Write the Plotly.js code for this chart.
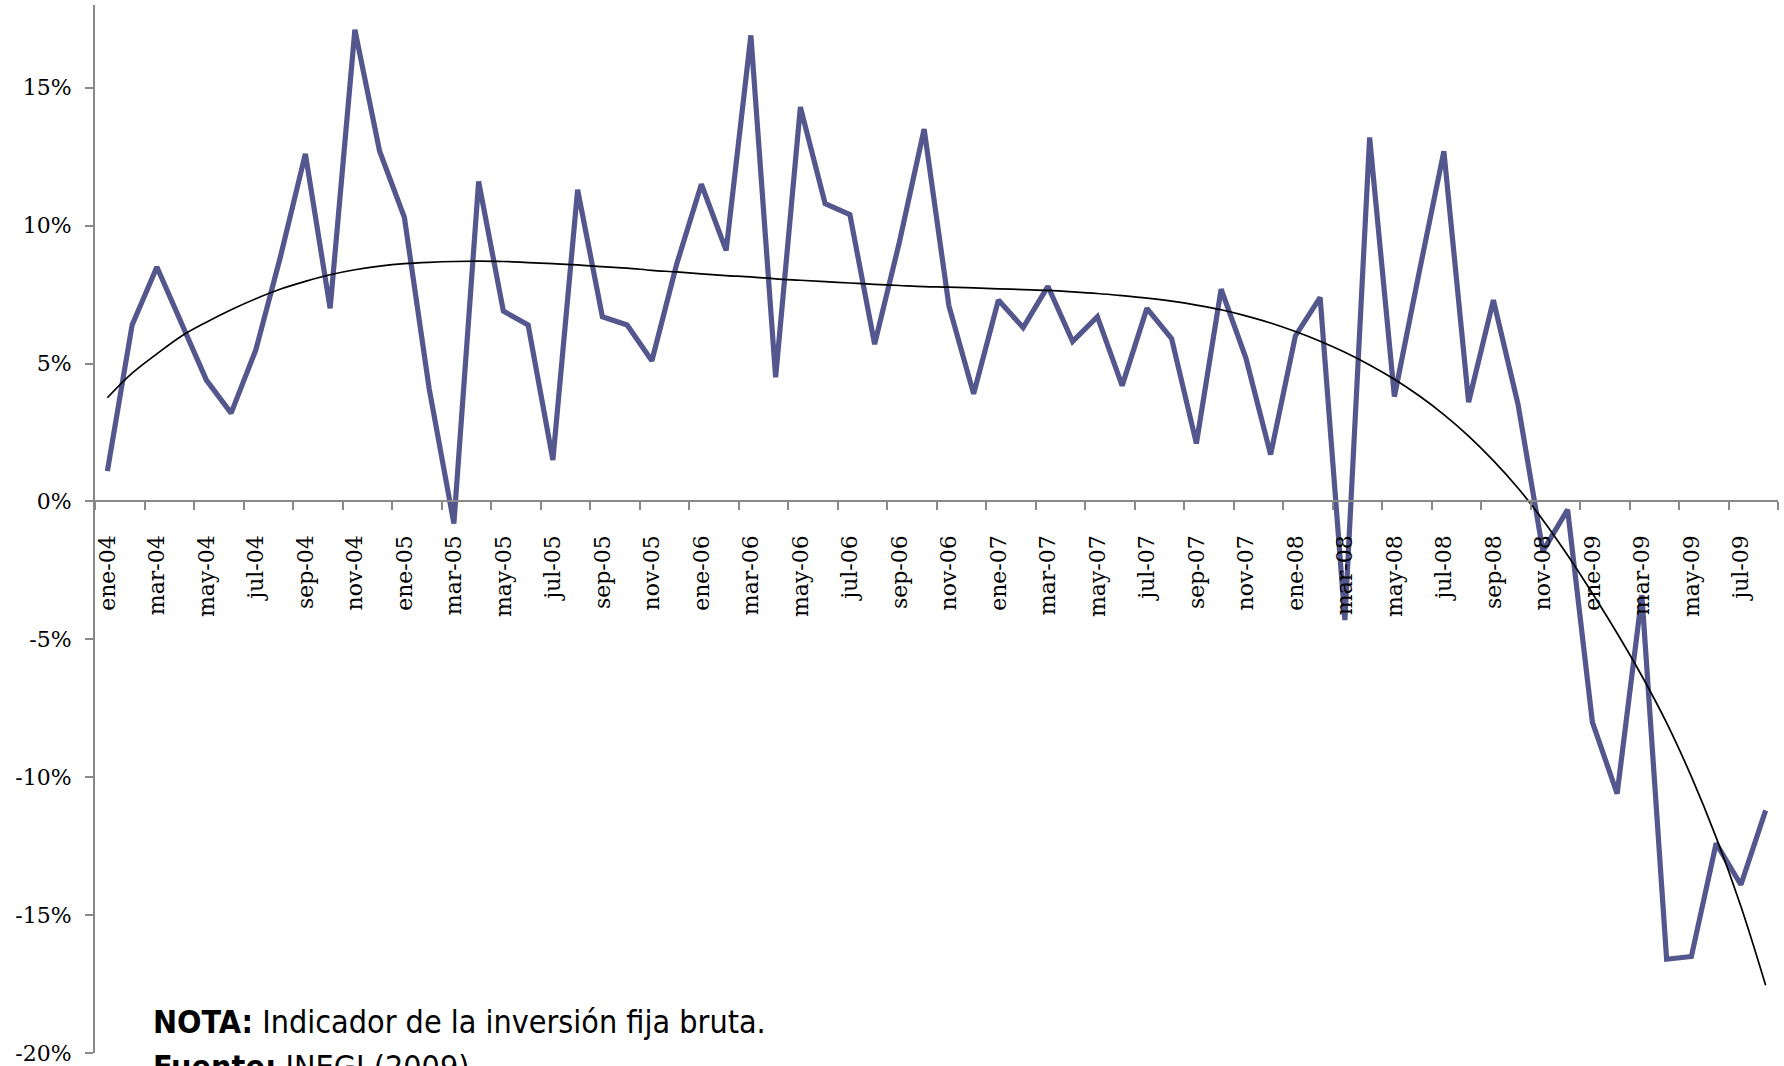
<!DOCTYPE html>
<html>
<head>
<meta charset="utf-8">
<script src="https://cdn.plot.ly/plotly-3.0.1.min.js"></script>
<style>
  html, body { margin: 0; padding: 0; background: #ffffff; }
  #chart { width: 1784px; height: 1066px; }
</style>
</head>
<body>
<div id="chart"></div>
<script>
// Monthly categories (ene-04 ... ago-09)
const months = [
  "ene-04","feb-04","mar-04","abr-04","may-04","jun-04","jul-04","ago-04","sep-04","oct-04","nov-04","dic-04",
  "ene-05","feb-05","mar-05","abr-05","may-05","jun-05","jul-05","ago-05","sep-05","oct-05","nov-05","dic-05",
  "ene-06","feb-06","mar-06","abr-06","may-06","jun-06","jul-06","ago-06","sep-06","oct-06","nov-06","dic-06",
  "ene-07","feb-07","mar-07","abr-07","may-07","jun-07","jul-07","ago-07","sep-07","oct-07","nov-07","dic-07",
  "ene-08","feb-08","mar-08","abr-08","may-08","jun-08","jul-08","ago-08","sep-08","oct-08","nov-08","dic-08",
  "ene-09","feb-09","mar-09","abr-09","may-09","jun-09","jul-09","ago-09"
];

// Annual growth of gross fixed investment (%)
const inversion = [
  1.1, 6.4, 8.5, 6.4, 4.4, 3.2, 5.5, 8.9, 12.6, 7.0, 17.1, 12.7,
  10.3, 4.1, -0.8, 11.6, 6.9, 6.4, 1.5, 11.3, 6.7, 6.4, 5.1, 8.6,
  11.5, 9.1, 16.9, 4.5, 14.3, 10.8, 10.4, 5.7, 9.4, 13.5, 7.1, 3.9,
  7.3, 6.3, 7.8, 5.8, 6.7, 4.2, 7.0, 5.9, 2.1, 7.7, 5.2, 1.7,
  6.0, 7.4, -4.3, 13.2, 3.8, 8.3, 12.7, 3.6, 7.3, 3.5, -1.8, -0.3,
  -8.0, -10.6, -3.4, -16.6, -16.5, -12.4, -13.9, -11.2
];

// Polynomial trend line as drawn in the picture (%)
const tendencia = [
  3.76, 4.65, 5.35, 6.0, 6.5, 6.95, 7.35, 7.7, 7.98, 8.22, 8.4, 8.53,
  8.62, 8.67, 8.7, 8.71, 8.7, 8.66, 8.62, 8.58, 8.51, 8.46, 8.38, 8.32,
  8.25, 8.19, 8.14, 8.07, 8.02, 7.97, 7.92, 7.87, 7.83, 7.79, 7.77, 7.74,
  7.71, 7.68, 7.65, 7.6, 7.54, 7.46, 7.37, 7.26, 7.12, 6.95, 6.73, 6.47,
  6.16, 5.81, 5.41, 4.95, 4.43, 3.83, 3.15, 2.37, 1.48, 0.48, -0.67, -1.95,
  -3.33, -4.78, -6.33, -8.03, -9.98, -12.18, -14.68, -17.54
];

// Y axis ticks
const yTickVals = [-20, -15, -10, -5, 0, 5, 10, 15];
const yTickText = ["-20%", "-15%", "-10%", "-5%", "0%", "5%", "10%", "15%"];
const yRange = [-20, 18];

// Notes under the chart
const notaTexto = "<b>NOTA:</b> Indicador de la inversión fija bruta.";
const fuenteTexto = "<b>Fuente:</b> INEGI (2009).";

// Derived: category indices, labels every 2 months, tick marks at category boundaries
const idx = months.map((m, i) => i);
const labelVals = idx.filter(i => i % 2 === 0);
const labelText = labelVals.map(i => months[i]);
const boundaryVals = [];
for (let b = -0.5; b <= months.length - 0.5; b += 2) boundaryVals.push(b);
const xRange = [-0.5, months.length - 0.5];
const zeroPos = (0 - yRange[0]) / (yRange[1] - yRange[0]);

const serif = "DejaVu Serif, Liberation Serif, serif";
const noteFont = "DejaVu Sans Condensed, Liberation Sans Narrow, Roboto, sans-serif";
const axisGray = "#898989";

const traces = [
  {
    x: idx, y: tendencia, type: "scatter", mode: "lines",
    xaxis: "x2", yaxis: "y",
    line: { color: "#000000", width: 1.7, shape: "spline", smoothing: 1 },
    hoverinfo: "skip", showlegend: false
  },
  {
    x: idx, y: inversion, type: "scatter", mode: "lines",
    xaxis: "x", yaxis: "y",
    text: months,
    line: { color: "#53578e", width: 5.2 },
    showlegend: false
  }
];

const layout = {
  width: 1784, height: 1066,
  margin: { l: 95, r: 6, t: 5, b: 13, pad: 0 },
  paper_bgcolor: "#ffffff", plot_bgcolor: "#ffffff",
  showlegend: false,
  xaxis: {
    type: "linear", range: xRange,
    anchor: "free", position: zeroPos,
    showgrid: false, zeroline: false,
    showline: true, linecolor: axisGray, linewidth: 2,
    tickmode: "array", tickvals: labelVals, ticktext: labelText,
    ticks: "", tickangle: -90, ticklabelstandoff: 24,
    tickfont: { family: serif, size: 22, color: "#000000" }
  },
  xaxis2: {
    type: "linear", range: xRange, overlaying: "x",
    anchor: "free", position: zeroPos,
    showgrid: false, zeroline: false, showline: false,
    tickmode: "array", tickvals: boundaryVals,
    ticks: "outside", ticklen: 8, tickwidth: 2, tickcolor: axisGray,
    showticklabels: false
  },
  yaxis: {
    range: yRange, showgrid: false, zeroline: false,
    showline: true, linecolor: axisGray, linewidth: 2,
    tickmode: "array", tickvals: yTickVals, ticktext: yTickText,
    ticks: "outside", ticklen: 8, tickwidth: 2, tickcolor: axisGray,
    ticklabelstandoff: 9,
    tickfont: { family: serif, size: 22, color: "#000000" }
  },
  annotations: [
    {
      xref: "paper", yref: "paper", x: 0.033, y: 0.03,
      xanchor: "left", yanchor: "middle", showarrow: false,
      text: notaTexto,
      font: { family: noteFont, size: 32, color: "#000000" }
    },
    {
      xref: "paper", yref: "paper", x: 0.033, y: -0.0135,
      xanchor: "left", yanchor: "middle", showarrow: false,
      text: fuenteTexto,
      font: { family: noteFont, size: 32, color: "#000000" }
    }
  ]
};

Plotly.newPlot("chart", traces, layout, { staticPlot: true, displayModeBar: false });
</script>
</body>
</html>
